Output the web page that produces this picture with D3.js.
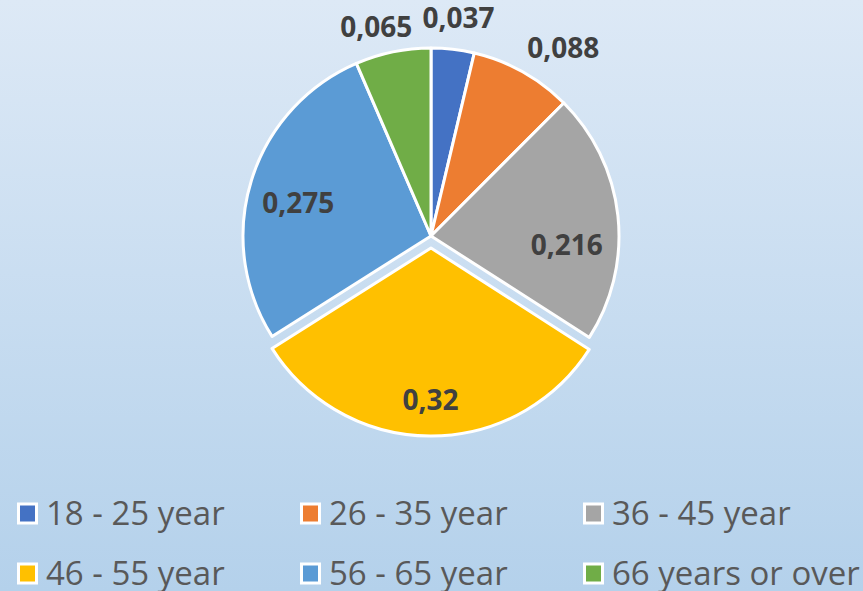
<!DOCTYPE html>
<html><head><meta charset="utf-8">
<script src="https://cdn.jsdelivr.net/npm/d3@7"></script>
<style>html,body{margin:0;padding:0;overflow:hidden;background:#fff}</style>
</head><body>
<svg id="chart" width="863" height="591"></svg>
<script>
const categories = ["18 - 25 year","26 - 35 year","36 - 45 year","46 - 55 year","56 - 65 year","66 years or over"];
const values = [0.037, 0.088, 0.216, 0.32, 0.275, 0.065];
const valueLabels = ["0,037","0,088","0,216","0,32","0,275","0,065"];
const colors = ["#4472C4","#ED7D31","#A5A5A5","#FFC000","#5B9BD5","#70AD47"];
const exploded = [false,false,false,true,false,false];

const W = 863, H = 591;
const cx = 431, cy = 236, R = 188, explode = 12;
const svg = d3.select("#chart");
const defs = svg.append("defs");
const grad = defs.append("linearGradient").attr("id","bg").attr("x1",0).attr("y1",0).attr("x2",0).attr("y2",1);
grad.append("stop").attr("offset","0%").attr("stop-color","#dde9f6");
grad.append("stop").attr("offset","100%").attr("stop-color","#b4d1eb");
svg.append("rect").attr("width",W).attr("height",H).attr("fill","url(#bg)");

const pie = d3.pie().sort(null).value(d=>d);
const arcs = pie(values);
const arc = d3.arc().innerRadius(0).outerRadius(R);

const g = svg.append("g").attr("transform",`translate(${cx},${cy})`);
g.selectAll("path").data(arcs).join("path")
  .attr("d",arc)
  .attr("fill",(d,i)=>colors[i])
  .attr("stroke","#fff").attr("stroke-width",3).attr("stroke-linejoin","round")
  .attr("transform",(d,i)=>{
    if(!exploded[i]) return null;
    const a=(d.startAngle+d.endAngle)/2;
    return `translate(${Math.sin(a)*explode},${-Math.cos(a)*explode})`;
  });

// label placement (layout only): radius from center and angular nudge in degrees
const labelLayout = [{r:220,da:0.5},{r:230,da:6},{r:136,da:10},{r:164,da:0},{r:137,da:-3},{r:216,da:-3}];
g.selectAll("text.v").data(arcs).join("text").attr("class","v")
  .attr("x",(d,i)=>{const a=(d.startAngle+d.endAngle)/2+labelLayout[i].da*Math.PI/180;return Math.sin(a)*labelLayout[i].r;})
  .attr("y",(d,i)=>{const a=(d.startAngle+d.endAngle)/2+labelLayout[i].da*Math.PI/180;return -Math.cos(a)*labelLayout[i].r;})
  .attr("dy","0.36em")
  .attr("text-anchor","middle")
  .attr("font-family","'Open Sans', sans-serif").attr("font-weight","bold").attr("font-size",28)
  .attr("fill","#404040")
  .text((d,i)=>valueLabels[i]);

// legend
const colX = [17, 300, 583], rowY = [513.5, 573.5];
const leg = svg.append("g");
categories.forEach((c,i)=>{
  const x = colX[i%3], y = rowY[Math.floor(i/3)];
  leg.append("rect").attr("x",x+1.5).attr("y",y-9.5).attr("width",18).attr("height",19)
    .attr("fill",colors[i]).attr("stroke","#fff").attr("stroke-width",3);
  leg.append("text").attr("x",x+29).attr("y",y).attr("dy","0.35em")
    .attr("font-family","'Open Sans', sans-serif").attr("font-size",33).attr("fill","#595959")
    .text(c);
});
</script>
</body></html>
